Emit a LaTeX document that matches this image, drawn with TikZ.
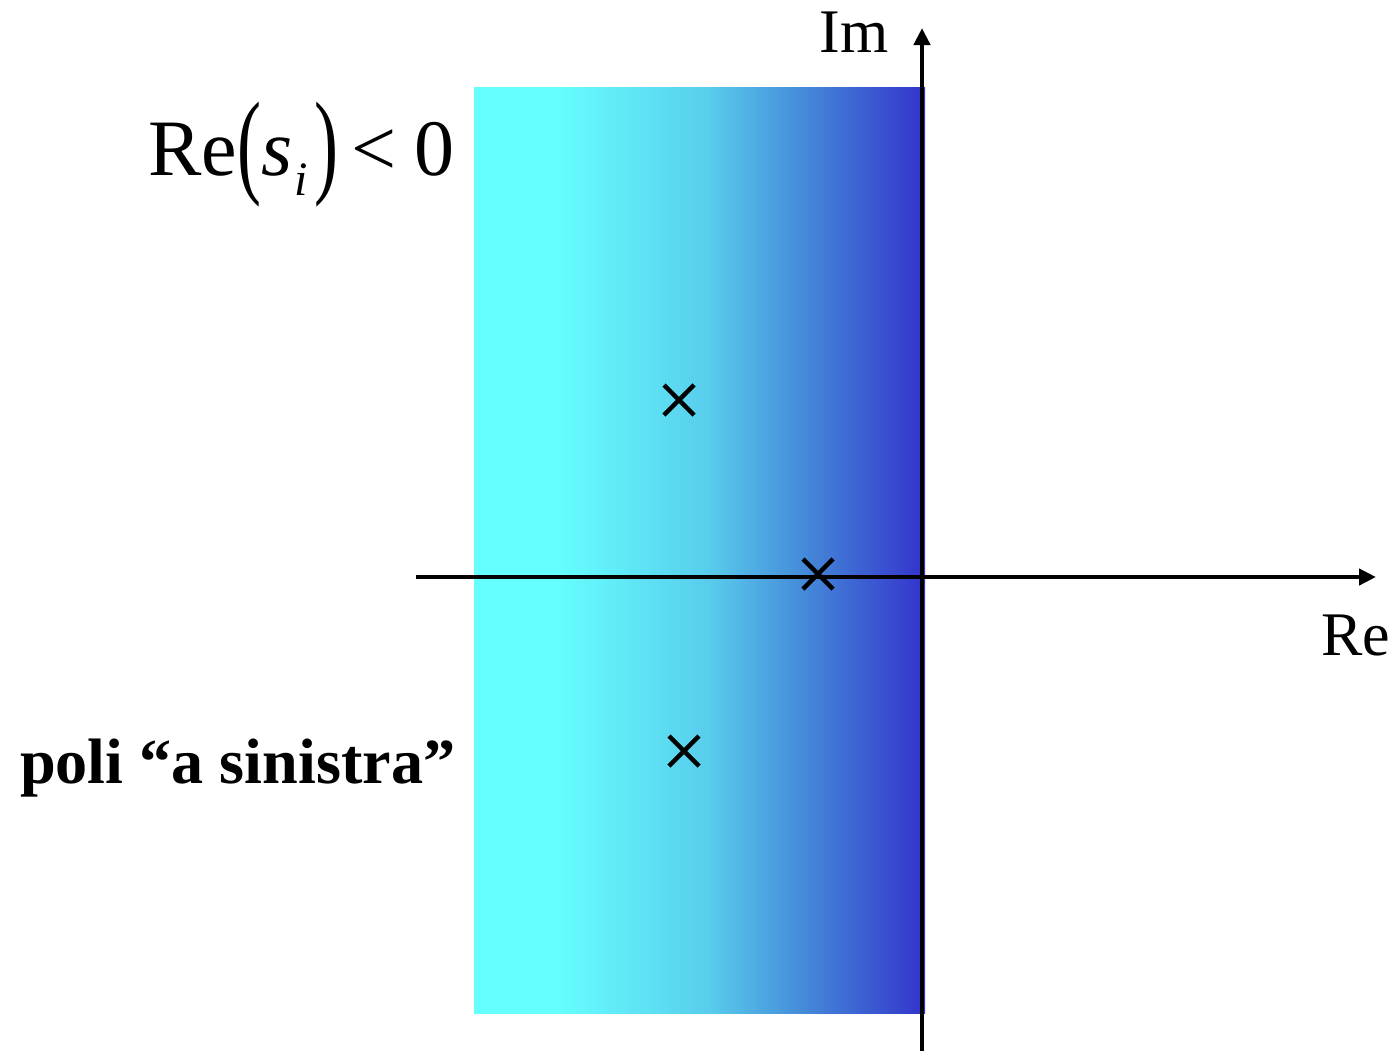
\documentclass[tikz,border=0pt]{standalone}
\usepackage{fontspec}
\setmainfont{Liberation Serif}
\usetikzlibrary{arrows.meta,shapes.misc}
\definecolor{cyanL}{RGB}{102,255,255}
\definecolor{midA}{RGB}{88,205,236}
\definecolor{midB}{RGB}{68,135,216}
\definecolor{blueR}{RGB}{51,51,204}
\pgfdeclarehorizontalshading{regionshade}{100bp}{color(0bp)=(cyanL); color(34bp)=(cyanL); color(51bp)=(midA); color(62bp)=(midB); color(75bp)=(blueR); color(100bp)=(blueR)}
\begin{document}
\begin{tikzpicture}[x=1pt,y=-1pt,
  axis/.style={line width=4.5pt,-{Triangle[length=17pt,width=16pt]}},
  pole/.style={cross out,draw,line width=4.5pt,minimum size=30pt,inner sep=0pt,outer sep=0pt},
  lbl/.style={inner sep=0pt,anchor=base,font=\fontsize{62}{62}\selectfont}]
\useasboundingbox (0,0) rectangle (1399,1053);
\shade[shading=regionshade] (474,87) rectangle (925,1013);
\coordinate (xs) at (416,577);
\coordinate (xe) at (1376,577);
\coordinate (ys) at (922,1051);
\coordinate (ye) at (922,28);
\draw[axis] (xs) -- (xe);
\draw[axis] (ys) -- (ye);
\node[pole] (p1) at (679,400) {};
\node[pole] (p2) at (818,574) {};
\node[pole] (p3) at (684,751) {};
\node[lbl] (im) at (854,52) {Im};
\node[lbl] (re) at (1356,655) {Re};
\node[inner sep=0pt,anchor=base west,font=\fontsize{80}{80}\selectfont] (cond) at (148,175)
  {Re\raisebox{-7pt}{\scalebox{0.9}[1.45]{(}}\textit{s}\hspace{2pt}\raisebox{-20pt}{\fontsize{48}{48}\selectfont\textit{i}}\hspace{7pt}\raisebox{-7pt}{\scalebox{0.9}[1.45]{)}}\hspace{13pt}<\hspace{18pt}0};
\node[inner sep=0pt,anchor=base west,font=\fontsize{64.2}{64.2}\selectfont\bfseries] (poli) at (20,783) {poli “a sinistra”};
\end{tikzpicture}
\end{document}
